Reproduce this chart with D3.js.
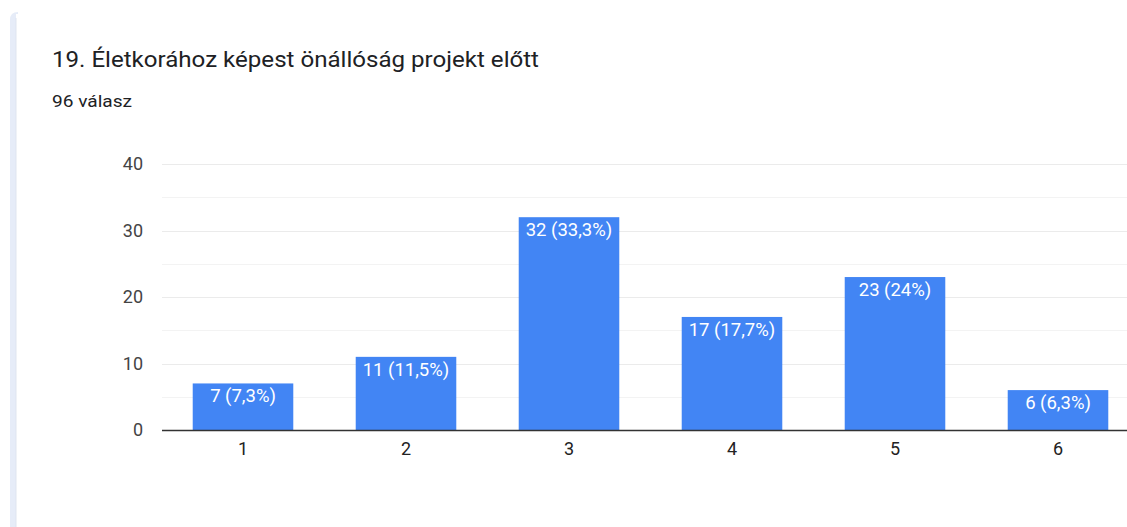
<!DOCTYPE html>
<html>
<head>
<meta charset="utf-8">
<script src="https://cdn.jsdelivr.net/npm/d3@7"></script>
<style>
  html, body { margin: 0; padding: 0; background: #ffffff; overflow: hidden; }
  svg { display: block; font-family: Roboto, Arial, sans-serif; }
</style>
</head>
<body>
<svg id="chart" width="1127" height="527"></svg>
<script>
const categories = ["1", "2", "3", "4", "5", "6"];
const counts = [7, 11, 32, 17, 23, 6];
const labels = ["7 (7,3%)", "11 (11,5%)", "32 (33,3%)", "17 (17,7%)", "23 (24%)", "6 (6,3%)"];
const yTicks = [0, 10, 20, 30, 40];
const yMinorTicks = [5, 15, 25, 35];
const title = "19. Életkorához képest önállóság projekt előtt";
const subtitle = "96 válasz";

const svg = d3.select("#chart");

// card left edge
svg.append("path")
  .attr("d", "M10,527 L10,20 Q10,12 18,12 L18,527 Z")
  .attr("fill", "#e6ecf8");
svg.append("rect").attr("x", 16).attr("y", 14).attr("width", 1111).attr("height", 513).attr("fill", "#ffffff");
svg.append("line").attr("x1", 16).attr("x2", 16).attr("y1", 18).attr("y2", 527)
  .attr("stroke", "#dfe5f0").attr("stroke-width", 1);

svg.append("text").attr("x", 52).attr("y", 67)
  .attr("font-size", 21.5).attr("fill", "#202124")
  .attr("textLength", 487).attr("lengthAdjust", "spacingAndGlyphs")
  .text(title);
svg.append("text").attr("x", 52).attr("y", 107)
  .attr("font-size", 16).attr("fill", "#202124")
  .attr("textLength", 80).attr("lengthAdjust", "spacingAndGlyphs")
  .text(subtitle);

const x = d3.scaleBand().domain(categories)
  .range([161.5, 161.5 + 6 * 163])
  .paddingInner(0.383).paddingOuter(0.1915);
const y = d3.scaleLinear().domain([0, 40]).range([430, 164]);

const g = svg.append("g");

g.selectAll("line.minor").data(yMinorTicks).join("line")
  .attr("class", "minor")
  .attr("x1", 162).attr("x2", 1127)
  .attr("y1", d => Math.round(y(d)) + 0.5).attr("y2", d => Math.round(y(d)) + 0.5)
  .attr("stroke", "#f3f3f3").attr("stroke-width", 1);
g.selectAll("line.major").data(yTicks.filter(d => d > 0)).join("line")
  .attr("class", "major")
  .attr("x1", 162).attr("x2", 1127)
  .attr("y1", d => Math.round(y(d)) + 0.5).attr("y2", d => Math.round(y(d)) + 0.5)
  .attr("stroke", "#ebebeb").attr("stroke-width", 1);

const yAxis = d3.axisLeft(y).tickValues(yTicks).tickSize(0).tickPadding(0);
const ya = g.append("g").attr("transform", "translate(143,0)").call(yAxis);
ya.select(".domain").remove();
ya.selectAll("text").attr("font-size", 18).attr("fill", "#444").attr("font-family", "Roboto, Arial, sans-serif");

g.selectAll("rect.bar").data(counts).join("rect")
  .attr("class", "bar")
  .attr("x", (d, i) => x(categories[i]))
  .attr("width", x.bandwidth())
  .attr("y", d => y(d))
  .attr("height", d => y(0) - y(d))
  .attr("fill", "#4285f4");

g.selectAll("text.lbl").data(counts).join("text")
  .attr("class", "lbl")
  .attr("x", (d, i) => x(categories[i]) + x.bandwidth() / 2)
  .attr("y", d => y(d) + 19)
  .attr("text-anchor", "middle")
  .attr("font-size", 18.5).attr("fill", "#ffffff")
  .text((d, i) => labels[i]);

const xAxis = d3.axisBottom(x).tickSize(0).tickPadding(12);
const xa = g.append("g").attr("transform", "translate(0,430)").call(xAxis);
xa.select(".domain").remove();
xa.selectAll("text").attr("font-size", 18).attr("fill", "#222").attr("font-family", "Roboto, Arial, sans-serif");

g.append("line").attr("x1", 162).attr("x2", 1127).attr("y1", 430.5).attr("y2", 430.5)
  .attr("stroke", "#333").attr("stroke-width", 1.3);
</script>
</body>
</html>
